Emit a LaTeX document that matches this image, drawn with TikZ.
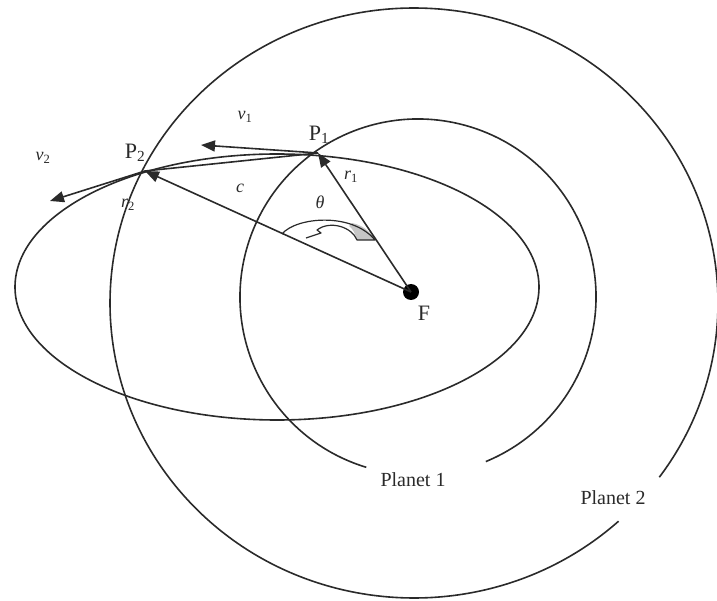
\documentclass[tikz,border=0pt]{standalone}
\usepackage{fontspec}
\setmainfont{Liberation Serif}
\usetikzlibrary{arrows.meta}
\definecolor{ink}{HTML}{2a2a2a}
\begin{document}
\begin{tikzpicture}[x=1pt,y=-1pt,
  curve/.style={draw=ink,line width=1.6pt},
  vec/.style={draw=ink,line width=1.6pt,-{Triangle[length=14pt,width=11pt]}},
  bigl/.style={font=\fontsize{22}{26}\selectfont,text=ink,inner sep=0pt},
  plab/.style={font=\fontsize{20}{24}\selectfont,text=ink,inner sep=0pt},
  ilab/.style={font=\fontsize{18}{21}\selectfont\itshape,text=ink,inner sep=0pt},
  dot/.style={circle,fill=black,inner sep=0pt,minimum size=16pt}]
\useasboundingbox (0,0) rectangle (717,601);
% orbits
\draw[curve] (414,303) ++(47.7:304 and 295) arc[start angle=47.7,end angle=396.2,x radius=304,y radius=295];
\draw[curve] (418,297) ++(106.9:178) arc[start angle=106.9,end angle=427.6,radius=178];
\draw[curve] (277,287) ellipse[x radius=262,y radius=133];
% points
\node[dot] (F) at (411,292) {};
\coordinate (P1) at (318,153);
\coordinate (P2) at (145,171);
\coordinate (V1) at (201,145);
\coordinate (V2) at (50,201);
% theta arrow
\fill[gray!45] (352,223) .. controls (362,225) and (370,231) .. (375,240) -- (357,240) .. controls (355,233) and (353,229) .. (349,226) -- cycle;
\draw[draw=ink,line width=1.2pt,line join=round]
  (282,234) .. controls (296,217) and (352,212) .. (375,240) -- (357,240)
  .. controls (352,227) and (330,220) .. (317,230) -- (321,233) -- (306,238);
% lines
\draw[curve] (P1) -- (P2);
\draw[vec] (F.center) -- (P1);
\draw[vec] (F.center) -- (P2);
\draw[vec] (P1) -- (V1);
\draw[vec] (P2) -- (V2);
% labels
\node[bigl] (lP1) at (319,135) {P\textsubscript{1}};
\node[bigl] (lP2) at (135,153) {P\textsubscript{2}};
\node[bigl] (lF) at (424,313) {F};
\node[ilab] (lv1) at (245,117) {v\textsubscript{\upshape 1}};
\node[ilab] (lv2) at (43,158) {v\textsubscript{\upshape 2}};
\node[ilab] (lr1) at (351,177) {r\textsubscript{\upshape 1}};
\node[ilab] (lr2) at (128,205) {r\textsubscript{\upshape 2}};
\node[ilab] (lc) at (240,188) {c};
\node[ilab] (lth) at (320,202) {θ};
\node[plab] (pl1) at (413,480) {Planet 1};
\node[plab] (pl2) at (613,498) {Planet 2};
\end{tikzpicture}
\end{document}
